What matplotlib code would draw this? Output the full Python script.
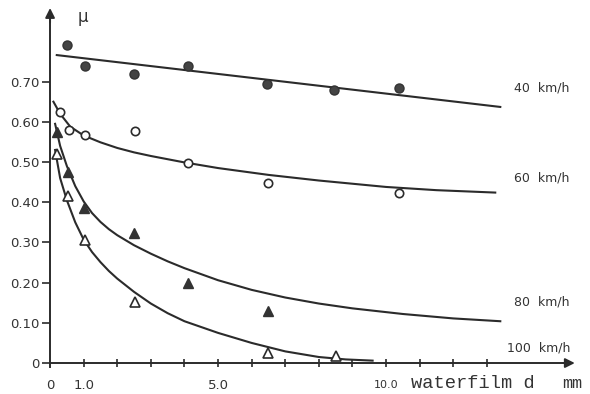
import matplotlib.pyplot as plt

# measured points (water film thickness d in mm, friction coefficient mu)
d40 = [0.5, 1.04, 2.5, 4.1, 6.45, 8.45, 10.4]
mu40 = [0.79, 0.74, 0.72, 0.74, 0.694, 0.679, 0.684]
d60 = [0.3, 0.57, 1.04, 2.53, 4.1, 6.5, 10.4]
mu60 = [0.624, 0.58, 0.567, 0.577, 0.497, 0.448, 0.423]
d80 = [0.2, 0.54, 1.0, 2.5, 4.1, 6.5]
mu80 = [0.575, 0.475, 0.386, 0.323, 0.199, 0.13]
d100 = [0.2, 0.54, 1.04, 2.53, 6.5, 8.5]
mu100 = [0.52, 0.415, 0.306, 0.152, 0.025, 0.017]

# fitted curves
c40_d = [0.2, 13.4]
c40_mu = [0.766, 0.637]
c60_d = [0.1, 0.3, 0.6, 1.0, 1.5, 2.0, 2.5, 3.0, 4.0, 5.0, 6.5, 8.0, 10.0, 11.5, 13.25]
c60_mu = [0.65, 0.62, 0.588, 0.566, 0.549, 0.535, 0.524, 0.515, 0.499, 0.485, 0.468, 0.454, 0.438, 0.43, 0.424]
c80_d = [0.15, 0.3, 0.5, 0.75, 1.0, 1.25, 1.5, 1.75, 2.0, 2.5, 3.0, 3.5, 4.0, 5.0, 6.0, 7.0, 8.0, 9.0, 10.5, 12.0, 13.4]
c80_mu = [0.595, 0.54, 0.49, 0.44, 0.402, 0.373, 0.351, 0.333, 0.318, 0.293, 0.272, 0.253, 0.236, 0.206, 0.182, 0.163, 0.148, 0.136, 0.122, 0.111, 0.104]
c100_d = [0.15, 0.3, 0.5, 0.75, 1.0, 1.25, 1.5, 1.75, 2.0, 2.5, 3.0, 3.5, 4.0, 5.0, 6.0, 7.0, 8.0, 8.8, 9.6]
c100_mu = [0.53, 0.46, 0.405, 0.35, 0.307, 0.276, 0.251, 0.229, 0.21, 0.177, 0.148, 0.124, 0.104, 0.075, 0.05, 0.029, 0.015, 0.009, 0.006]

speed_labels = ['40  km/h', '60  km/h', '80  km/h', '100  km/h']
label_mu = [0.684, 0.46, 0.152, 0.037]

ink = '#2b2b2b'
txt = '#333333'

fig = plt.figure(figsize=(5.9, 3.94), dpi=100)
ax = fig.add_axes([0, 0, 1, 1])
ax.set_xlim(-1.49, 16.07)
ax.set_ylim(-0.077, 0.903)

for s in ['top', 'right']:
    ax.spines[s].set_visible(False)
ax.spines['left'].set_position(('data', 0))
ax.spines['bottom'].set_position(('data', 0))
ax.spines['left'].set_bounds(-0.01, 0.86)
ax.spines['bottom'].set_bounds(0, 15.4)
for s in ['left', 'bottom']:
    ax.spines[s].set_color(ink)
    ax.spines[s].set_linewidth(1.4)

# arrow heads
ax.annotate('', xy=(0, 0.89), xytext=(0, 0.84),
            arrowprops=dict(arrowstyle='-|>', color=ink, lw=1.4, mutation_scale=14))
ax.annotate('', xy=(15.7, 0), xytext=(15.2, 0),
            arrowprops=dict(arrowstyle='-|>', color=ink, lw=1.4, mutation_scale=14))

yt = [0, 0.1, 0.2, 0.3, 0.4, 0.5, 0.6, 0.7]
ax.set_yticks(yt)
ax.set_yticklabels(['0', '0.10', '0.20', '0.30', '0.40', '0.50', '0.60', '0.70'])
ax.tick_params(axis='y', direction='out', length=6, width=1.2, color=ink,
               labelsize=9.5, labelcolor=txt, pad=1.5)
ax.set_xticks(list(range(1, 14)))
ax.set_xticklabels([])
ax.tick_params(axis='x', direction='inout', length=6, width=1.2, color=ink)

xlab_d = [0, 1, 5]
xlab_t = ['0', '1.0', '5.0']
for xv, t in zip(xlab_d, xlab_t):
    ax.text(xv, -0.055, t, ha='center', va='center', fontsize=9.5, color=txt)
ax.text(10.0, -0.055, '10.0', ha='center', va='center', fontsize=8, color=txt)
ax.text(10.75, -0.05, 'waterfilm d', ha='left', va='center', fontsize=13.5,
        family=['Liberation Mono', 'DejaVu Sans Mono'], color=txt)
ax.text(15.25, -0.05, 'mm', ha='left', va='center', fontsize=12,
        family=['Liberation Mono', 'DejaVu Sans Mono'], color=txt)
ax.text(0.98, 0.86, 'μ', ha='center', va='center', fontsize=12, color=txt)

# curves
for cd, cm in [(c40_d, c40_mu), (c60_d, c60_mu), (c80_d, c80_mu), (c100_d, c100_mu)]:
    ax.plot(cd, cm, color=ink, lw=1.5, solid_joinstyle='round')

ax.plot(d40, mu40, 'o', ms=6.5, color='#444444', mec='#333333')
ax.plot(d60, mu60, 'o', ms=6, mfc='white', mec=ink, mew=1.2)
ax.plot(d80, mu80, '^', ms=7.5, color='#333333')
ax.plot(d100, mu100, '^', ms=7.5, mfc='white', mec=ink, mew=1.2)

for t, m in zip(speed_labels, label_mu):
    ax.text(13.8 if t[0] != '1' else 13.6, m, t, ha='left', va='center',
            fontsize=9, color=txt)

fig.savefig('out.png', dpi=100)
